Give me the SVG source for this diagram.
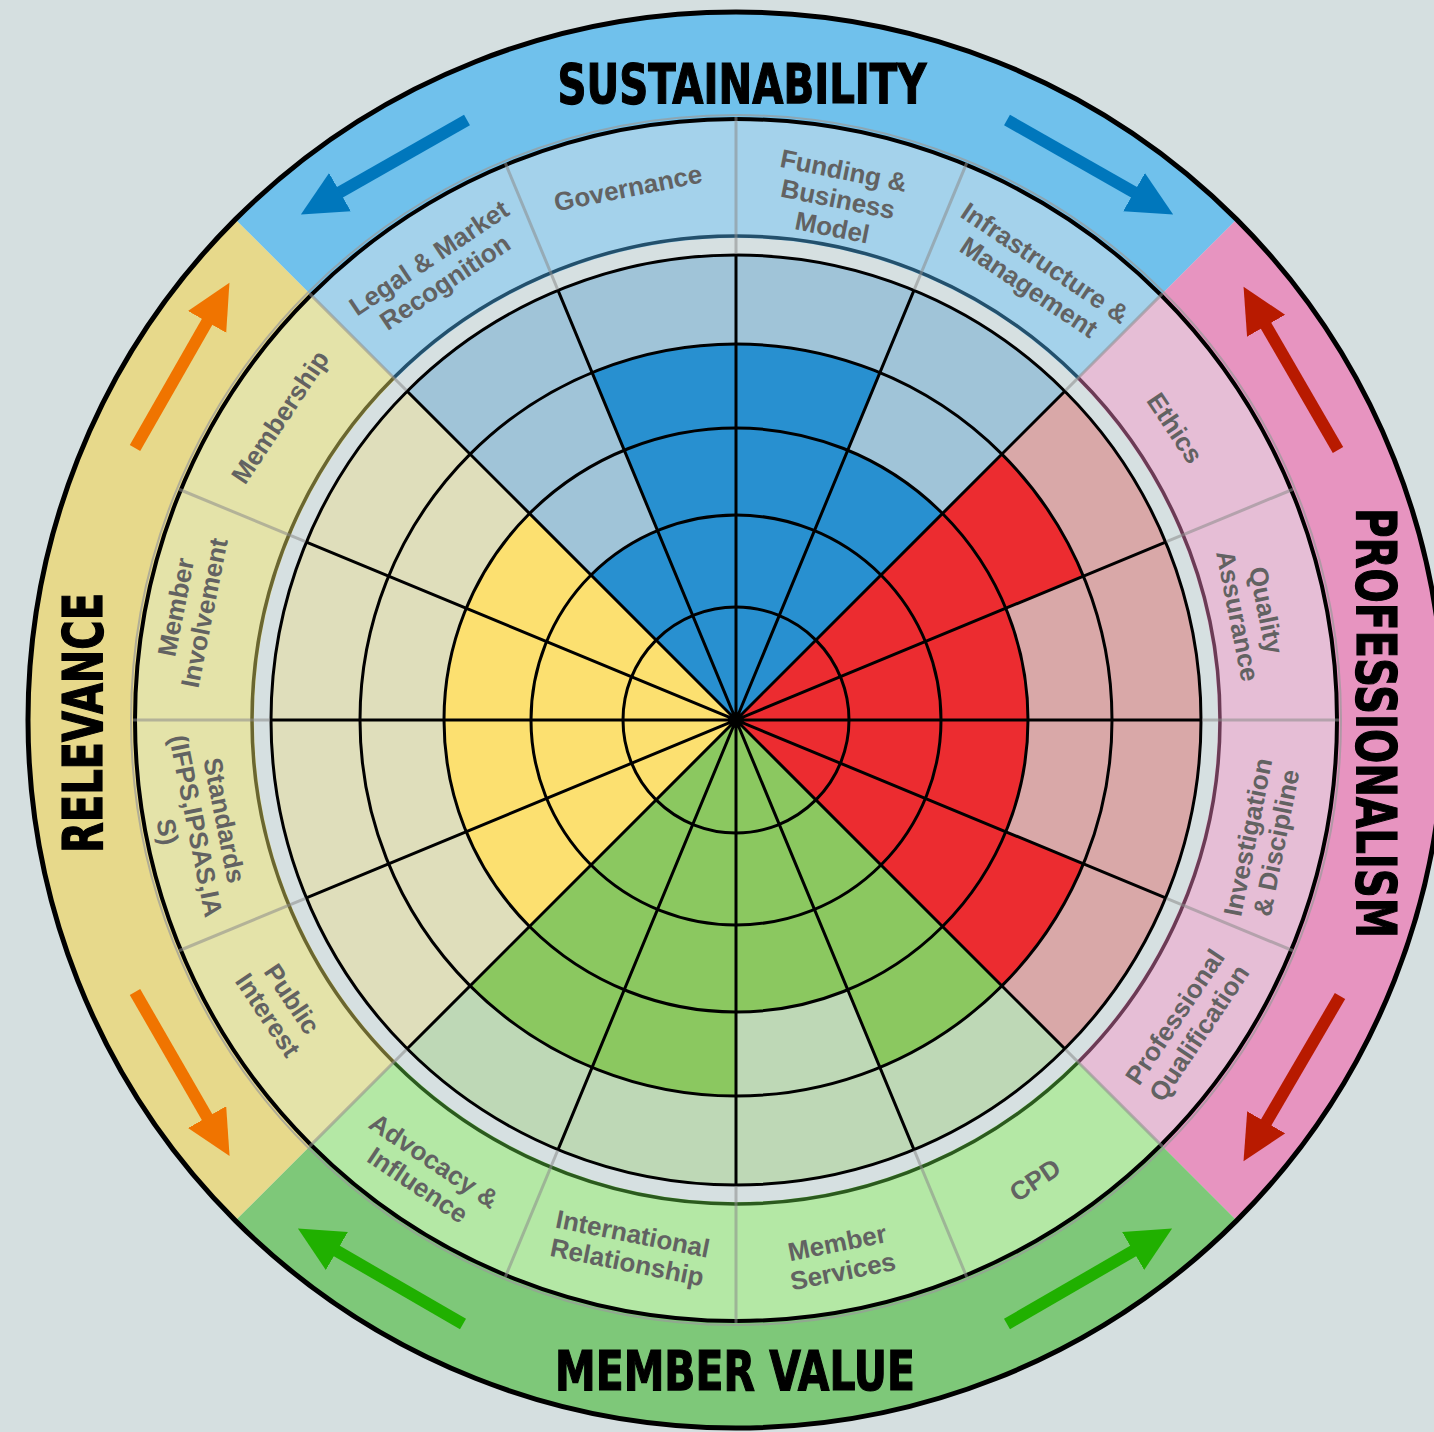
<svg xmlns="http://www.w3.org/2000/svg" width="1434" height="1432" viewBox="0 0 1434 1432">
<style>
.lbl{font-family:"Liberation Sans",Arial,sans-serif;font-weight:bold;font-size:26px;fill:#626262;text-anchor:middle}
.ttl{font-family:"Liberation Sans Narrow","DejaVu Sans Condensed","Liberation Sans",sans-serif;font-weight:bold;font-size:55px;fill:#000;stroke:#000;stroke-width:1.2;text-anchor:middle}
.grid{fill:none;stroke:#000;stroke-width:3}
.div{stroke:#8a8a8a;stroke-opacity:0.55;stroke-width:3}
.arr{fill:none;stroke-width:12}
</style>
<defs>
<marker id="ah-blue" markerUnits="userSpaceOnUse" markerWidth="48" markerHeight="46" viewBox="0 0 48 46" refX="1" refY="22" orient="auto"><path d="M0,0 L45,22 L0,44 Z" fill="#0077bc"/></marker>
<marker id="ah-red" markerUnits="userSpaceOnUse" markerWidth="48" markerHeight="46" viewBox="0 0 48 46" refX="1" refY="22" orient="auto"><path d="M0,0 L45,22 L0,44 Z" fill="#b81a00"/></marker>
<marker id="ah-green" markerUnits="userSpaceOnUse" markerWidth="48" markerHeight="46" viewBox="0 0 48 46" refX="1" refY="22" orient="auto"><path d="M0,0 L45,22 L0,44 Z" fill="#20b000"/></marker>
<marker id="ah-orange" markerUnits="userSpaceOnUse" markerWidth="48" markerHeight="46" viewBox="0 0 48 46" refX="1" refY="22" orient="auto"><path d="M0,0 L45,22 L0,44 Z" fill="#f07400"/></marker>
</defs>
<rect x="0" y="0" width="1434" height="1432" fill="#d5dfe0"/>

<g id="outer-band">
<path d="M736,720 L234.66,218.66 A709,709 0 0 1 1237.34,218.66 Z" fill="#70c1ec"/>
<path d="M736,720 L1237.34,218.66 A709,709 0 0 1 1237.34,1221.34 Z" fill="#e794c0"/>
<path d="M736,720 L1237.34,1221.34 A709,709 0 0 1 234.66,1221.34 Z" fill="#7ec879"/>
<path d="M736,720 L234.66,1221.34 A709,709 0 0 1 234.66,218.66 Z" fill="#e7d98b"/>
<circle cx="736" cy="720" r="708" fill="none" stroke="#000" stroke-width="5"/>
</g>

<g id="label-ring">
<path d="M736,720 L310.32,294.32 A602,602 0 0 1 1161.68,294.32 Z" fill="#a4d2eb"/>
<path d="M736,720 L1161.68,294.32 A602,602 0 0 1 1161.68,1145.68 Z" fill="#e6bed6"/>
<path d="M736,720 L1161.68,1145.68 A602,602 0 0 1 310.32,1145.68 Z" fill="#b4e8a5"/>
<path d="M736,720 L310.32,1145.68 A602,602 0 0 1 310.32,294.32 Z" fill="#e4e3a9"/>
<circle cx="736" cy="720" r="605" fill="none" stroke="#9a9a9a" stroke-opacity="0.7" stroke-width="2"/>
<circle cx="736" cy="720" r="601" fill="none" stroke="#000" stroke-width="4"/>
<circle cx="736" cy="720" r="482" fill="#d6e0e1"/>
<path d="M393.76,377.76 A484,484 0 0 1 1078.24,377.76" fill="none" stroke="#23506c" stroke-width="3.5"/>
<path d="M1078.24,377.76 A484,484 0 0 1 1078.24,1062.24" fill="none" stroke="#6b3b55" stroke-width="3.5"/>
<path d="M1078.24,1062.24 A484,484 0 0 1 393.76,1062.24" fill="none" stroke="#2b5a1e" stroke-width="3.5"/>
<path d="M393.76,1062.24 A484,484 0 0 1 393.76,377.76" fill="none" stroke="#6a6630" stroke-width="3.5"/>
</g>

<g id="chart-base">
<path d="M736,720 L407.2,391.2 A465,465 0 0 1 1064.8,391.2 Z" fill="#a0c4d8"/>
<path d="M736,720 L1064.8,391.2 A465,465 0 0 1 1064.8,1048.8 Z" fill="#d9a8a8"/>
<path d="M736,720 L1064.8,1048.8 A465,465 0 0 1 407.2,1048.8 Z" fill="#bed8b6"/>
<path d="M736,720 L407.2,1048.8 A465,465 0 0 1 407.2,391.2 Z" fill="#dfdebb"/>
</g>

<g id="seg-legal"><path d="M736,720 L591.04,575.04 A205,205 0 0 1 657.55,530.6 Z" fill="#2890d0"/>
<text class="lbl" transform="translate(437,270) rotate(-33.75)"><tspan x="0" y="-5.5">Legal &amp; Market</tspan><tspan x="0" y="23.5">Recognition</tspan></text></g>
<g id="seg-governance"><path d="M736,720 L592.11,372.62 A376,376 0 0 1 736,344 Z" fill="#2890d0"/>
<text class="lbl" transform="translate(628,188) rotate(-11.25)"><tspan x="0" y="9">Governance</tspan></text></g>
<g id="seg-funding"><path d="M736,720 L736,344 A376,376 0 0 1 879.89,372.62 Z" fill="#2890d0"/>
<text class="lbl" transform="translate(838,199) rotate(11.25)"><tspan x="0" y="-20">Funding &amp;</tspan><tspan x="0" y="9">Business</tspan><tspan x="0" y="38">Model</tspan></text></g>
<g id="seg-infrastructure"><path d="M736,720 L847.74,450.23 A292,292 0 0 1 942.48,513.52 Z" fill="#2890d0"/>
<text class="lbl" transform="translate(1037,275) rotate(33.75)"><tspan x="0" y="-5.5">Infrastructure &amp;</tspan><tspan x="0" y="23.5">Management</tspan></text></g>
<g id="seg-ethics"><path d="M736,720 L1001.87,454.13 A376,376 0 0 1 1083.38,576.11 Z" fill="#ec2c30"/>
<text class="lbl" transform="translate(1175,428) rotate(56.25)"><tspan x="0" y="9">Ethics</tspan></text></g>
<g id="seg-quality"><path d="M736,720 L1005.77,608.26 A292,292 0 0 1 1028,720 Z" fill="#ec2c30"/>
<text class="lbl" transform="translate(1252,613) rotate(78.75)"><tspan x="0" y="-5.5">Quality</tspan><tspan x="0" y="23.5">Assurance</tspan></text></g>
<g id="seg-investigation"><path d="M736,720 L1028,720 A292,292 0 0 1 1005.77,831.74 Z" fill="#ec2c30"/>
<text class="lbl" transform="translate(1262,840) rotate(-78.75)"><tspan x="0" y="-5.5">Investigation</tspan><tspan x="0" y="23.5">&amp; Discipline</tspan></text></g>
<g id="seg-professional"><path d="M736,720 L1083.38,863.89 A376,376 0 0 1 1001.87,985.87 Z" fill="#ec2c30"/>
<text class="lbl" transform="translate(1187,1025) rotate(-56.25)"><tspan x="0" y="-5.5">Professional</tspan><tspan x="0" y="23.5">Qualification</tspan></text></g>
<g id="seg-cpd"><path d="M736,720 L1001.87,985.87 A376,376 0 0 1 879.89,1067.38 Z" fill="#8bc860"/>
<text class="lbl" transform="translate(1035,1180) rotate(-33.75)"><tspan x="0" y="9">CPD</tspan></text></g>
<g id="seg-member-services"><path d="M736,720 L847.74,989.77 A292,292 0 0 1 736,1012 Z" fill="#8bc860"/>
<text class="lbl" transform="translate(840,1257) rotate(-11.25)"><tspan x="0" y="-5.5">Member</tspan><tspan x="0" y="23.5">Services</tspan></text></g>
<g id="seg-international"><path d="M736,720 L736,1096 A376,376 0 0 1 592.11,1067.38 Z" fill="#8bc860"/>
<text class="lbl" transform="translate(630,1248) rotate(11.25)"><tspan x="0" y="-5.5">International</tspan><tspan x="0" y="23.5">Relationship</tspan></text></g>
<g id="seg-advocacy"><path d="M736,720 L592.11,1067.38 A376,376 0 0 1 470.13,985.87 Z" fill="#8bc860"/>
<text class="lbl" transform="translate(426,1173) rotate(33.75)"><tspan x="0" y="-5.5">Advocacy &amp;</tspan><tspan x="0" y="23.5">Influence</tspan></text></g>
<g id="seg-public-interest"><path d="M736,720 L529.52,926.48 A292,292 0 0 1 466.23,831.74 Z" fill="#fce070"/>
<text class="lbl" transform="translate(280,1007) rotate(56.25)"><tspan x="0" y="-5.5">Public</tspan><tspan x="0" y="23.5">Interest</tspan></text></g>
<g id="seg-standards"><path d="M736,720 L466.23,831.74 A292,292 0 0 1 444,720 Z" fill="#fce070"/>
<text class="lbl" transform="translate(196,826) rotate(78.75)"><tspan x="0" y="-20">Standards</tspan><tspan x="0" y="9">(IFPS,IPSAS,IA</tspan><tspan x="0" y="38">S)</tspan></text></g>
<g id="seg-member-involvement"><path d="M736,720 L444,720 A292,292 0 0 1 466.23,608.26 Z" fill="#fce070"/>
<text class="lbl" transform="translate(190,610) rotate(-78.75)"><tspan x="0" y="-5.5">Member</tspan><tspan x="0" y="23.5">Involvement</tspan></text></g>
<g id="seg-membership"><path d="M736,720 L466.23,608.26 A292,292 0 0 1 529.52,513.52 Z" fill="#fce070"/>
<text class="lbl" transform="translate(280,417) rotate(-56.25)"><tspan x="0" y="9">Membership</tspan></text></g>

<g id="grid">
<circle class="grid" cx="736" cy="720" r="113"/>
<circle class="grid" cx="736" cy="720" r="205"/>
<circle class="grid" cx="736" cy="720" r="292"/>
<circle class="grid" cx="736" cy="720" r="376"/>
<circle class="grid" cx="736" cy="720" r="465"/>
<path class="grid" d="M736,255 L736,1185 M913.95,290.4 L558.05,1149.6 M1064.8,391.2 L407.2,1048.8 M1165.6,542.05 L306.4,897.95 M1201,720 L271,720 M1165.6,897.95 L306.4,542.05 M1064.8,1048.8 L407.2,391.2 M913.95,1149.6 L558.05,290.4"/>
</g>

<g id="dividers">
<path class="div" d="M736,254 L736,117 M914.33,289.47 L966.76,162.9 M1065.51,390.49 L1162.39,293.61 M1166.53,541.67 L1293.1,489.24 M1202,720 L1339,720 M1166.53,898.33 L1293.1,950.76 M1065.51,1049.51 L1162.39,1146.39 M914.33,1150.53 L966.76,1277.1 M736,1186 L736,1323 M557.67,1150.53 L505.24,1277.1 M406.49,1049.51 L309.61,1146.39 M305.47,898.33 L178.9,950.76 M270,720 L133,720 M305.47,541.67 L178.9,489.24 M406.49,390.49 L309.61,293.61 M557.67,289.47 L505.24,162.9"/>
</g>

<g id="titles">
<text id="t-sustainability" class="ttl" x="742" y="103" textLength="369" lengthAdjust="spacingAndGlyphs">SUSTAINABILITY</text>
<text id="t-member-value" class="ttl" x="735" y="1390" textLength="360" lengthAdjust="spacingAndGlyphs">MEMBER VALUE</text>
<text id="t-professionalism" class="ttl" transform="translate(1357,723) rotate(90)" x="0" y="0" textLength="430" lengthAdjust="spacingAndGlyphs">PROFESSIONALISM</text>
<text id="t-relevance" class="ttl" transform="translate(102,723) rotate(-90)" x="0" y="0" textLength="260" lengthAdjust="spacingAndGlyphs">RELEVANCE</text>
</g>

<g id="connectors">
<path class="arr" d="M467,120 L339.1,192.7" stroke="#0077bc" marker-end="url(#ah-blue)"/>
<path class="arr" d="M1007,120 L1134.9,192.7" stroke="#0077bc" marker-end="url(#ah-blue)"/>
<path class="arr" d="M1338,450 L1265.6,324.9" stroke="#b81a00" marker-end="url(#ah-red)"/>
<path class="arr" d="M1340,996 L1265.7,1123.2" stroke="#b81a00" marker-end="url(#ah-red)"/>
<path class="arr" d="M463,1324 L336,1250.5" stroke="#20b000" marker-end="url(#ah-green)"/>
<path class="arr" d="M1007,1324 L1134,1250.5" stroke="#20b000" marker-end="url(#ah-green)"/>
<path class="arr" d="M135,448 L207.6,321" stroke="#f07400" marker-end="url(#ah-orange)"/>
<path class="arr" d="M135,992 L207.6,1118" stroke="#f07400" marker-end="url(#ah-orange)"/>
</g>
</svg>
